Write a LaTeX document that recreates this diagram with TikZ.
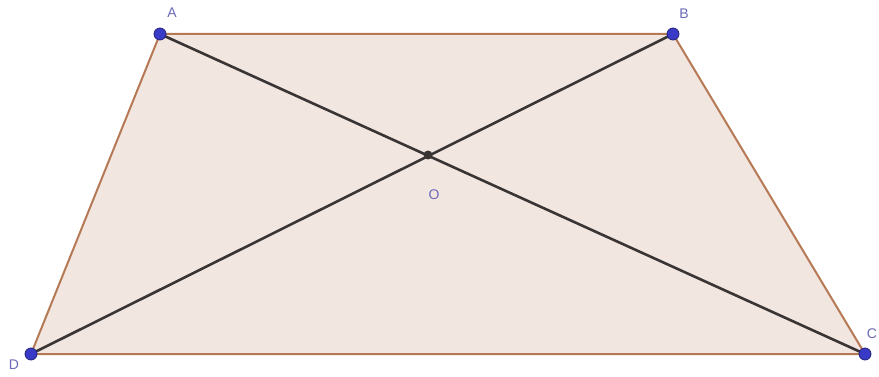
\documentclass[tikz,border=0pt]{standalone}
\usepackage{fontspec}
\setmainfont{Liberation Sans}
\definecolor{fillc}{HTML}{F2E6E0}
\definecolor{edgec}{HTML}{B57A55}
\definecolor{diagc}{HTML}{3A3535}
\definecolor{ptc}{HTML}{3A3AC8}
\definecolor{labc}{HTML}{6A6AB8}
\begin{document}
\begin{tikzpicture}[x=1pt,y=-1pt,
  pt/.style={circle,fill=ptc,draw=ptc!60!black,line width=0.8pt,inner sep=0pt,minimum size=12pt},
  opt/.style={circle,fill=diagc,inner sep=0pt,minimum size=9pt},
  lab/.style={text=labc,font=\fontsize{14}{14}\selectfont,inner sep=0pt},
  edge/.style={draw=edgec,line width=2pt},
  diag/.style={draw=diagc,line width=2.6pt}]
\useasboundingbox (0,0) rectangle (879,377);
\coordinate (A) at (160,34);
\coordinate (B) at (673,34);
\coordinate (C) at (865,354);
\coordinate (D) at (31,354);
\fill[fillc] (A) -- (B) -- (C) -- (D) -- cycle;
\draw[edge,line join=round] (A) -- (B) -- (C) -- (D) -- cycle;
\draw[diag] (A) -- (C);
\draw[diag] (B) -- (D);
\node[opt] (O) at (428,155) {};
\node[pt] (pA) at (A) {};
\node[pt] (pB) at (B) {};
\node[pt] (pC) at (C) {};
\node[pt] (pD) at (D) {};
\node[lab] (lA) at (172,13) {A};
\node[lab] (lB) at (684,14) {B};
\node[lab] (lC) at (872,334) {C};
\node[lab] (lD) at (14,365) {D};
\node[lab] (lO) at (434,195) {O};
\end{tikzpicture}
\end{document}
